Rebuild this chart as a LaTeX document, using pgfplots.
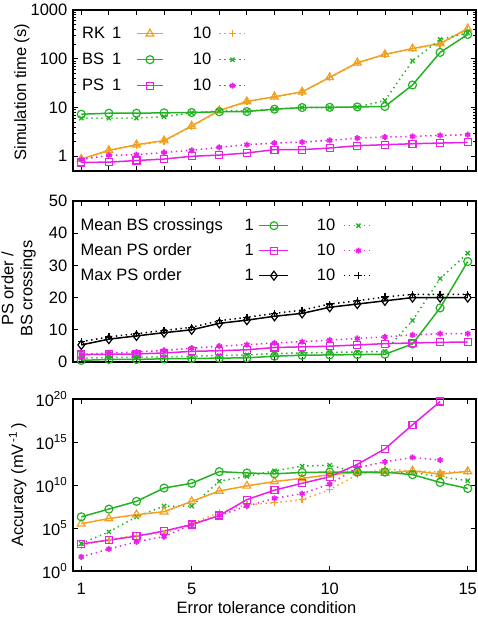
\documentclass[border=0pt]{standalone}
\usepackage{pgfplots}
\pgfplotsset{compat=1.18}
\usepackage{fontspec}
\setmainfont{Liberation Sans}
\definecolor{cor}{RGB}{242,160,32}
\definecolor{cgr}{RGB}{36,178,36}
\definecolor{cmg}{RGB}{232,32,232}
\begin{document}
\fontsize{16.5}{19}\selectfont
\begin{tikzpicture}
\useasboundingbox (0,0) rectangle (478pt,-618pt);
\pgfplotsset{
  every axis/.append style={
    scale only axis, width=403pt, xmin=0.7, xmax=15.3,
    tick align=inside, major tick length=5pt, minor tick length=3pt,
    every tick/.style={black, line width=0.8pt},
    axis line style={line width=1.2pt},
    /pgf/number format/assume math mode=true,
    tick label style={font=\fontsize{16.5}{19}\selectfont},
    label style={font=\fontsize{16.5}{19}\selectfont},
    legend cell align=left,
    legend plot pos=right,
  },
  s1/.style={line width=1.5pt, mark options={solid, line width=1.2pt}},
  d10/.style={line width=1.5pt, dash pattern=on 1.4pt off 3.6pt, mark options={solid, line width=1.3pt}},
}
% ---------------- top ----------------
\begin{axis}[at={(73pt,-10pt)}, anchor=north west, height=161pt,
  ymode=log, ymin=0.5, ymax=1000,
  ytick={1,10,100,1000}, yticklabels={1,10,100,1000},
  xtick={1,...,15}, xticklabels={},
  ylabel={Simulation time (s)},
  ylabel style={at={(axis description cs:-0.127,0.49)}, anchor=center},
  legend columns=2,
  legend style={draw=none, fill=none, inner sep=0pt, at={(axis description cs:0,1)}, anchor=north west,
    xshift=9pt, yshift=-16pt, column sep=0pt, row sep=11pt,
    nodes={inner sep=0pt, text height=12pt, text depth=3pt}},
  legend image code/.code={\draw[mark repeat=2,mark phase=2,#1] plot coordinates {(0pt,0pt) (13pt,0pt) (26pt,0pt)};},
]
\addplot[s1, color=cor, mark=triangle, mark size=4.5pt] coordinates {
(1,0.88) (2,1.33) (3,1.73) (4,2.1) (5,4.2) (6,8.7) (7,13.3) (8,16.7) (9,21) (10,41.6) (11,83) (12,123) (13,162) (14,206) (15,415)};
\addlegendentry{\makebox[54pt][l]{\makebox[30pt][l]{RK}1}}
\addplot[d10, color=cor, mark=+, mark size=3.5pt] coordinates {
(1,0.85) (2,1.3) (3,1.7) (4,2.05) (5,4.1) (6,8.5) (7,13) (8,16.5) (9,20.5) (10,41) (11,82) (12,122) (13,160) (14,200) (15,400)};
\addlegendentry{\makebox[55pt][r]{10\hspace*{7.5pt}}}
\addplot[s1, color=cgr, mark=o, mark size=4pt] coordinates {
(1,7.3) (2,7.65) (3,7.65) (4,7.8) (5,7.9) (6,8.2) (7,8.3) (8,9.25) (9,10) (10,10.1) (11,10.3) (12,10.5) (13,29) (14,135) (15,315)};
\addlegendentry{\makebox[54pt][l]{\makebox[30pt][l]{BS}1}}
\addplot[d10, color=cgr, mark=x, mark size=3pt] coordinates {
(1,6.06) (2,6.06) (3,6.06) (4,6.5) (5,7.8) (6,8.5) (7,8.5) (8,9.3) (9,10) (10,10) (11,10.2) (12,13.9) (13,91) (14,248) (15,340)};
\addlegendentry{\makebox[55pt][r]{10\hspace*{7.5pt}}}
\addplot[s1, color=cmg, mark=square, mark size=3.5pt] coordinates {
(1,0.75) (2,0.76) (3,0.82) (4,0.88) (5,1.0) (6,1.06) (7,1.17) (8,1.37) (9,1.37) (10,1.48) (11,1.65) (12,1.73) (13,1.81) (14,1.87) (15,1.93)};
\addlegendentry{\makebox[54pt][l]{\makebox[30pt][l]{PS}1}}
\addplot[d10, color=cmg, mark=asterisk, mark size=3pt, mark options={solid, line width=1.7pt}] coordinates {
(1,0.86) (2,1.05) (3,1.08) (4,1.2) (5,1.33) (6,1.53) (7,1.73) (8,1.87) (9,1.96) (10,2.12) (11,2.37) (12,2.48) (13,2.56) (14,2.68) (15,2.77)};
\addlegendentry{\makebox[55pt][r]{10\hspace*{7.5pt}}}
\end{axis}
% ---------------- middle ----------------
\begin{axis}[at={(73pt,-201pt)}, anchor=north west, height=161pt,
  ymin=0, ymax=50, ytick={0,10,...,50},
  xtick={1,...,15}, xticklabels={},
  ylabel={PS order /\\BS crossings}, ylabel style={align=center, at={(axis description cs:-0.135,0.455)}, anchor=center},
  legend columns=2,
  legend style={draw=none, fill=none, inner sep=0pt, at={(axis description cs:0,1)}, anchor=north west,
    xshift=7.5pt, yshift=-17pt, column sep=0pt, row sep=10pt,
    nodes={inner sep=0pt, text height=12pt, text depth=3pt}},
  legend image code/.code={\draw[mark repeat=2,mark phase=2,#1] plot coordinates {(0pt,0pt) (14.5pt,0pt) (29pt,0pt)};},
]
\addplot[s1, color=cgr, mark=o, mark size=4pt] coordinates {
(1,0.5) (2,0.8) (3,0.8) (4,1.0) (5,1.1) (6,1.2) (7,1.3) (8,1.8) (9,2.1) (10,2.2) (11,2.3) (12,2.4) (13,5.6) (14,16.8) (15,31.2)};
\addlegendentry{\makebox[178pt][l]{\makebox[164pt][l]{Mean BS crossings}1}}
\addplot[d10, color=cgr, mark=x, mark size=3pt] coordinates {
(1,1.2) (2,1.4) (3,1.5) (4,1.6) (5,1.8) (6,2.0) (7,2.2) (8,2.6) (9,2.8) (10,3.0) (11,3.1) (12,3.3) (13,12.9) (14,25.9) (15,33.8)};
\addlegendentry{\makebox[54pt][r]{10\hspace*{8pt}}}
\addplot[s1, color=cmg, mark=square, mark size=3.5pt] coordinates {
(1,2.3) (2,2.4) (3,2.5) (4,2.8) (5,3.3) (6,3.5) (7,3.8) (8,4.5) (9,4.7) (10,4.9) (11,5.3) (12,5.7) (13,5.9) (14,6.1) (15,6.2)};
\addlegendentry{\makebox[178pt][l]{\makebox[164pt][l]{Mean PS order}1}}
\addplot[d10, color=cmg, mark=asterisk, mark size=3pt, mark options={solid, line width=1.7pt}] coordinates {
(1,2.4) (2,2.8) (3,3.1) (4,3.6) (5,4.3) (6,4.9) (7,5.4) (8,5.9) (9,6.3) (10,6.8) (11,7.3) (12,7.8) (13,8.4) (14,8.8) (15,8.8)};
\addlegendentry{\makebox[54pt][r]{10\hspace*{8pt}}}
\addplot[s1, color=black, mark=diamond, mark size=4.5pt] coordinates {
(1,5.3) (2,7.1) (3,8.1) (4,9.1) (5,10) (6,12) (7,13) (8,14.2) (9,15.1) (10,17) (11,18) (12,19) (13,20) (14,20) (15,20)};
\addlegendentry{\makebox[178pt][l]{\makebox[164pt][l]{Max PS order}1}}
\addplot[d10, color=black, mark=+, mark size=3.5pt] coordinates {
(1,6.3) (2,7.8) (3,8.8) (4,9.8) (5,10.8) (6,12.8) (7,13.9) (8,15.1) (9,16.1) (10,18) (11,19) (12,20.2) (13,21) (14,21) (15,21)};
\addlegendentry{\makebox[54pt][r]{10\hspace*{8pt}}}
\end{axis}
% ---------------- bottom ----------------
\begin{axis}[at={(73pt,-399pt)}, anchor=north west, height=172pt,
  ymode=log, ymin=1, ymax=1e20, yminorticks=false,
  ytick={1,1e5,1e10,1e15,1e20},
  yticklabels={10\textsuperscript{0},10\textsuperscript{5},10\textsuperscript{10},10\textsuperscript{15},10\textsuperscript{20}},
  xtick={1,5,10,15},
  xticklabel style={yshift=-6pt},
  xlabel={Error tolerance condition},
  xlabel style={at={(axis description cs:0.48,0)}, anchor=base, yshift=-42.5pt},
  ylabel={Accuracy (mV\textsuperscript{\,-1}\,)},
  ylabel style={at={(axis description cs:-0.137,0.5)}, anchor=center},
]
\addplot[d10, color=cor, mark=+, mark size=3.5pt] coordinates {
(1,1e3) (2,4.47e3) (3,1.41e4) (4,2.51e4) (5,3.16e5) (6,6.31e6) (7,5.01e7) (8,8.91e7) (9,2.0e8) (10,2.88e9) (11,1.58e11) (12,7.08e11) (13,4.47e11) (14,3.16e11) (15,3.8e11)};
\addplot[d10, color=cgr, mark=x, mark size=3pt] coordinates {
(1,1.58e3) (2,3.55e4) (3,2.0e6) (4,3.55e7) (5,3.55e7) (6,2.82e10) (7,1e11) (8,4.47e11) (9,1.58e12) (10,2.0e12) (11,2.88e11) (12,3.16e11) (13,2.88e11) (14,9.12e10) (15,3.16e10)};
\addplot[d10, color=cmg, mark=asterisk, mark size=3pt, mark options={solid, line width=1.7pt}] coordinates {
(1,44.7) (2,355) (3,2.51e3) (4,1e4) (5,2.51e5) (6,2.82e6) (7,3.55e7) (8,2.82e8) (9,1e9) (10,1.26e10) (11,1e12) (12,5.01e12) (13,1.58e13) (14,7.94e12)};
\addplot[s1, color=cor, mark=triangle, mark size=4.5pt] coordinates {
(1,3.16e5) (2,1.26e6) (3,3.55e6) (4,7.94e6) (5,1.26e8) (6,2.0e9) (7,7.94e9) (8,2.51e10) (9,5.89e10) (10,1.58e11) (11,2.88e11) (12,2.51e11) (13,4.47e11) (14,1.86e11) (15,3.8e11)};
\addplot[s1, color=cgr, mark=o, mark size=4pt] coordinates {
(1,2.0e6) (2,1.58e7) (3,1.26e8) (4,4.47e9) (5,1.58e10) (6,3.55e11) (7,2.51e11) (8,2.0e11) (9,2.88e11) (10,3.16e11) (11,3.16e11) (12,3.16e11) (13,1.58e11) (14,2.0e10) (15,3.98e9)};
\addplot[s1, color=cmg, mark=square, mark size=3.5pt] coordinates {
(1,1.41e3) (2,3.98e3) (3,1.12e4) (4,4.47e4) (5,2.51e5) (6,2.82e6) (7,2.0e8) (8,2.51e9) (9,1.58e10) (10,9.12e10) (11,2.51e12) (12,1.58e14) (13,1e17) (14,5.01e19)};
\end{axis}
\end{tikzpicture}
\end{document}
